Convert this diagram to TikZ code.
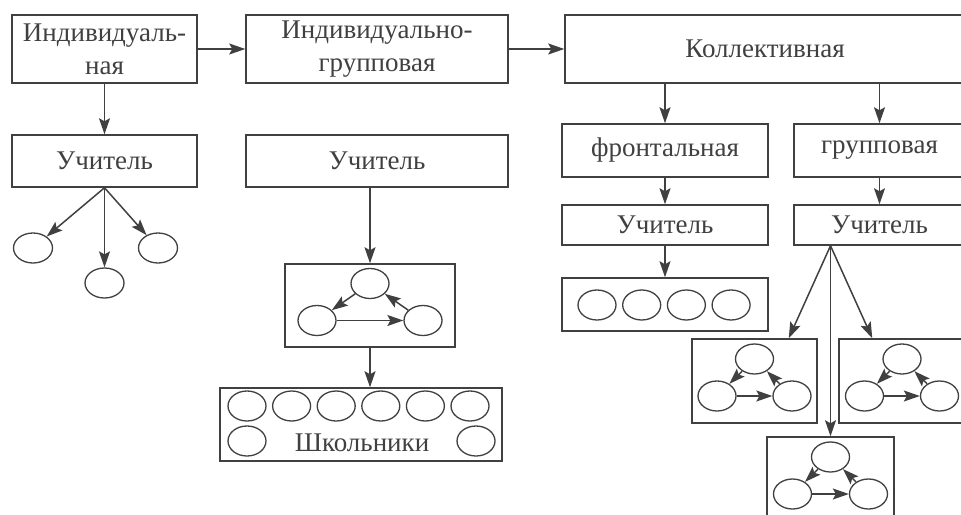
\documentclass[tikz,border=0pt]{standalone}
\usepackage{fontspec}
\setmainfont{Liberation Serif}
\usetikzlibrary{arrows.meta,shapes.geometric}

\newcommand\triad[2]{%
  \begin{scope}[shift={(#1.center)}]
    \node[pup] (#1t) at (0,-22) {};
    \node[pup] (#1l) at (-#2,15) {};
    \node[pup] (#1r) at (#2,15) {};
  \end{scope}
  \draw[arr] (#1t) -- (#1l);
  \draw[arr] (#1l) -- (#1r);
  \draw[arr] (#1r) -- (#1t);
}

\begin{document}
\begin{tikzpicture}[x=1pt,y=-1pt,
            line width=1.5pt,
            color=black!75,
            box/.style = {draw,
                        rectangle,
                        align=center,
                        inner sep=0pt,
                        font=\fontsize{27}{33}\selectfont},
            pup/.style = {draw,
                        ellipse,
                        line width=1.3pt,
                        inner sep=0pt,
                        minimum width=38pt,
                        minimum height=30pt},
            arr/.style = {-{Stealth[length=16pt,width=11pt,inset=3pt]}}]
            \useasboundingbox (0,0) rectangle (961,514);
            % Top row
            \node[box,minimum width=185pt,minimum height=68pt] (ind) at (104.5,49) {Индивидуаль-\\ная};
            \node[box,minimum width=262pt,minimum height=68pt] (indgr) at (377,49) {Индивидуально-\\групповая};
            \node[box,minimum width=400pt,minimum height=68pt] (koll) at (765,49) {Коллективная};
            \draw[arr] (ind) -- (indgr);
            \draw[arr] (indgr) -- (koll);
            % Individual
            \node[box,minimum width=185pt,minimum height=52pt] (uch1) at (104.5,161) {Учитель};
            \draw[arr] (ind) -- (uch1);
            \node[pup,minimum width=39pt] (p1) at (33,248) {};
            \node[pup,minimum width=39pt] (p2) at (104.5,283) {};
            \node[pup,minimum width=39pt] (p3) at (158,248) {};
            \foreach \p in {p1,p2,p3}
                \draw[arr] (uch1.south) -- (\p);
            % Individual-group
            \node[box,minimum width=262pt,minimum height=52pt] (uch2) at (377,161) {Учитель};
            \node[box,minimum width=170pt,minimum height=83pt] (tri) at (370,305.5) {};
            \triad{tri}{53}
            \draw[arr] (uch2.south -| tri.north) -- (tri.north);
            \node[box,minimum width=282pt,minimum height=73pt] (shk) at (361,424.5) {};
            \foreach \i in {0,...,5}
                \node[pup] (s\i) at (247+44.6*\i,406) {};
            \node[pup] (s6) at (247,441) {};
            \node[pup] (s7) at (476,441) {};
            \node[font=\fontsize{27}{33}\selectfont] (shkt) at (362,443) {Школьники};
            \draw[arr] (tri.south) -- (tri.south |- shk.north);
            % Collective
            \node[box,minimum width=206pt,minimum height=53pt] (front) at (665,150.5) {фронтальная};
            \node[box,minimum width=171pt,minimum height=53pt] (grp) at (879.5,150.5) {групповая};
            \draw[arr] (koll.south -| front.north) -- (front.north);
            \draw[arr] (koll.south -| grp.north) -- (grp.north);
            % Frontal
            \node[box,minimum width=206pt,minimum height=40pt] (uch3) at (665,225) {Учитель};
            \draw[arr] (front) -- (uch3);
            \node[box,minimum width=206pt,minimum height=53pt] (row) at (665,304.5) {};
            \foreach \i in {0,...,3}
                \node[pup] (r\i) at (597+44.7*\i,305) {};
            \draw[arr] (uch3) -- (row);
            % Group
            \node[box,minimum width=171pt,minimum height=40pt] (uch4) at (879.5,225) {Учитель};
            \draw[arr] (grp) -- (uch4);
            \node[box,minimum width=125pt,minimum height=84pt] (ga) at (754.5,381) {};
            \node[box,minimum width=126pt,minimum height=84pt] (gb) at (902,381) {};
            \node[box,minimum width=127pt,minimum height=84pt] (gc) at (830.5,479) {};
            \triad{ga}{37.5}
            \triad{gb}{37.5}
            \triad{gc}{38}
            \coordinate (fan) at (uch4.south -| gc.north);
            \draw[arr] (fan) -- ([xshift=-29pt]ga.north east);
            \draw[arr] (fan) -- ([xshift=34pt]gb.north west);
            \draw[arr] (fan) -- (gc.north);
        \end{tikzpicture}
\end{document}
